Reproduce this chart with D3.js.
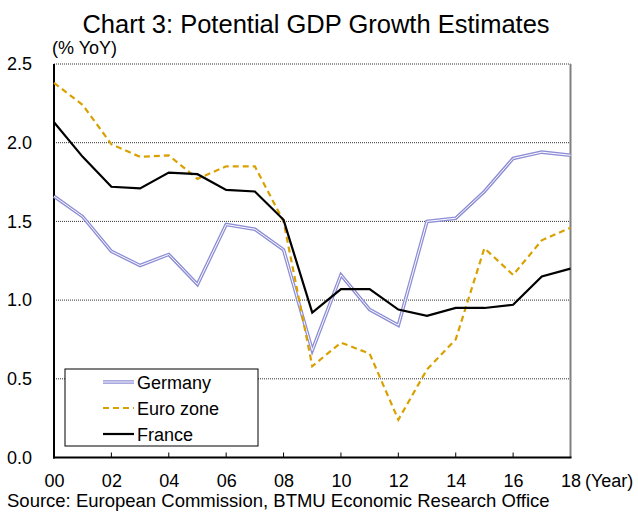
<!DOCTYPE html>
<html><head><meta charset="utf-8">
<script src="https://cdn.jsdelivr.net/npm/d3@7"></script>
<style>
html,body{margin:0;padding:0;background:#fff;}
svg{display:block;font-family:"Liberation Sans",Arial,sans-serif;}
</style></head>
<body>
<svg id="c" width="638" height="513"></svg>
<script>
const years = [0,1,2,3,4,5,6,7,8,9,10,11,12,13,14,15,16,17,18];
const germany = [1.66,1.53,1.31,1.22,1.29,1.10,1.48,1.45,1.32,0.68,1.16,0.94,0.84,1.50,1.52,1.69,1.90,1.94,1.92];
const euroZone = [2.38,2.24,1.99,1.91,1.92,1.77,1.85,1.85,1.50,0.58,0.73,0.66,0.24,0.56,0.75,1.33,1.16,1.38,1.46];
const france = [2.13,1.91,1.72,1.71,1.81,1.80,1.70,1.69,1.51,0.92,1.07,1.07,0.94,0.90,0.95,0.95,0.97,1.15,1.20];
const xTickYears = [0,2,4,6,8,10,12,14,16,18];
const xTickLabels = ["00","02","04","06","08","10","12","14","16","18"];
const yTicks = [0,0.5,1.0,1.5,2.0,2.5];
const seriesNames = ["Germany","Euro zone","France"];

const FONT = "Liberation Sans, Arial, sans-serif";
const svg = d3.select("#c");
const L=54, R=570.5, T=64, B=457.5;
const x = d3.scaleLinear().domain([0,18]).range([L,R]);
const y = d3.scaleLinear().domain([0,2.5]).range([B,T]);

// title
svg.append("text").attr("x",316).attr("y",33).attr("text-anchor","middle")
  .attr("font-size",25.5).attr("fill","#000").text("Chart 3: Potential GDP Growth Estimates");
svg.append("text").attr("x",52).attr("y",54).attr("font-size",18).text("(% YoY)");

// gridlines
svg.append("g").selectAll("line").data(yTicks.filter(d=>d>0&&d<2.5)).join("line")
  .attr("x1",L).attr("x2",R).attr("y1",d=>y(d)).attr("y2",d=>y(d))
  .attr("stroke","#333").attr("stroke-width",1).attr("stroke-dasharray","1,1");
// top border
svg.append("line").attr("x1",L).attr("x2",R).attr("y1",y(2.5)).attr("y2",y(2.5))
  .attr("stroke","#777").attr("stroke-width",1.5).attr("stroke-dasharray","1,1");
// right border
svg.append("line").attr("x1",R).attr("x2",R).attr("y1",T).attr("y2",B)
  .attr("stroke","#808080").attr("stroke-width",2);

// y axis labels
const yAxis = d3.axisLeft(y).tickValues(yTicks).tickFormat(d3.format(".1f")).tickSize(0).tickPadding(22);
const gy = svg.append("g").attr("transform",`translate(${L},0)`).call(yAxis);
gy.select(".domain").remove();
gy.selectAll("text").attr("font-size",18).attr("font-family",FONT).attr("fill","#000");

// x axis
const xAxis = d3.axisBottom(x).tickValues(xTickYears).tickFormat((d,i)=>xTickLabels[i]).tickSize(0).tickPadding(16.5);
const gx = svg.append("g").attr("transform",`translate(0,${B})`).call(xAxis);
gx.select(".domain").remove();
gx.selectAll("text").attr("font-size",18).attr("font-family",FONT).attr("fill","#000");
// inward ticks
svg.append("g").selectAll("line").data(xTickYears.filter(d=>d>0&&d<18)).join("line")
  .attr("x1",d=>x(d)).attr("x2",d=>x(d)).attr("y1",B).attr("y2",B-5)
  .attr("stroke","#000").attr("stroke-width",1);
svg.append("text").attr("x",x(18)+14.5).attr("y",B+29.5).attr("font-size",18).text("(Year)");

// axes lines
svg.append("line").attr("x1",L).attr("x2",L).attr("y1",T).attr("y2",B+1).attr("stroke","#000").attr("stroke-width",2);
svg.append("line").attr("x1",L-1).attr("x2",R+1).attr("y1",B).attr("y2",B).attr("stroke","#000").attr("stroke-width",2);

// lines
const line = d3.line().x((d,i)=>x(years[i])).y(d=>y(d));
svg.append("path").attr("d",line(germany)).attr("fill","none").attr("stroke","#8e8ed6").attr("stroke-width",3.5).attr("stroke-linejoin","miter");
svg.append("path").attr("d",line(germany)).attr("fill","none").attr("stroke","#fff").attr("stroke-width",1).attr("stroke-linejoin","miter");
svg.append("path").attr("d",line(euroZone)).attr("fill","none").attr("stroke","#d9a100").attr("stroke-width",2.2).attr("stroke-dasharray","6,4");
svg.append("path").attr("d",line(france)).attr("fill","none").attr("stroke","#000").attr("stroke-width",2.2);

// legend
const lg = svg.append("g");
lg.append("rect").attr("x",65).attr("y",369).attr("width",193).attr("height",77)
  .attr("fill","#fff").attr("stroke","#000").attr("stroke-width",1);
const rowsY = [382,408,434];
seriesNames.forEach((name,i)=>{
  const yy = rowsY[i];
  if(i===0){
    lg.append("line").attr("x1",103).attr("x2",134).attr("y1",yy).attr("y2",yy).attr("stroke","#8e8ed6").attr("stroke-width",3.5);
    lg.append("line").attr("x1",103).attr("x2",134).attr("y1",yy).attr("y2",yy).attr("stroke","#fff").attr("stroke-width",1);
  } else if(i===1){
    lg.append("line").attr("x1",103).attr("x2",134).attr("y1",yy).attr("y2",yy).attr("stroke","#d9a100").attr("stroke-width",2.2).attr("stroke-dasharray","6,4");
  } else {
    lg.append("line").attr("x1",103).attr("x2",134).attr("y1",yy).attr("y2",yy).attr("stroke","#000").attr("stroke-width",2.2);
  }
  lg.append("text").attr("x",137).attr("y",yy+6.5).attr("font-size",18).text(name);
});

// source
svg.append("text").attr("x",7).attr("y",507).attr("font-size",18.5).text("Source: European Commission, BTMU Economic Research Office");
</script>
</body></html>
